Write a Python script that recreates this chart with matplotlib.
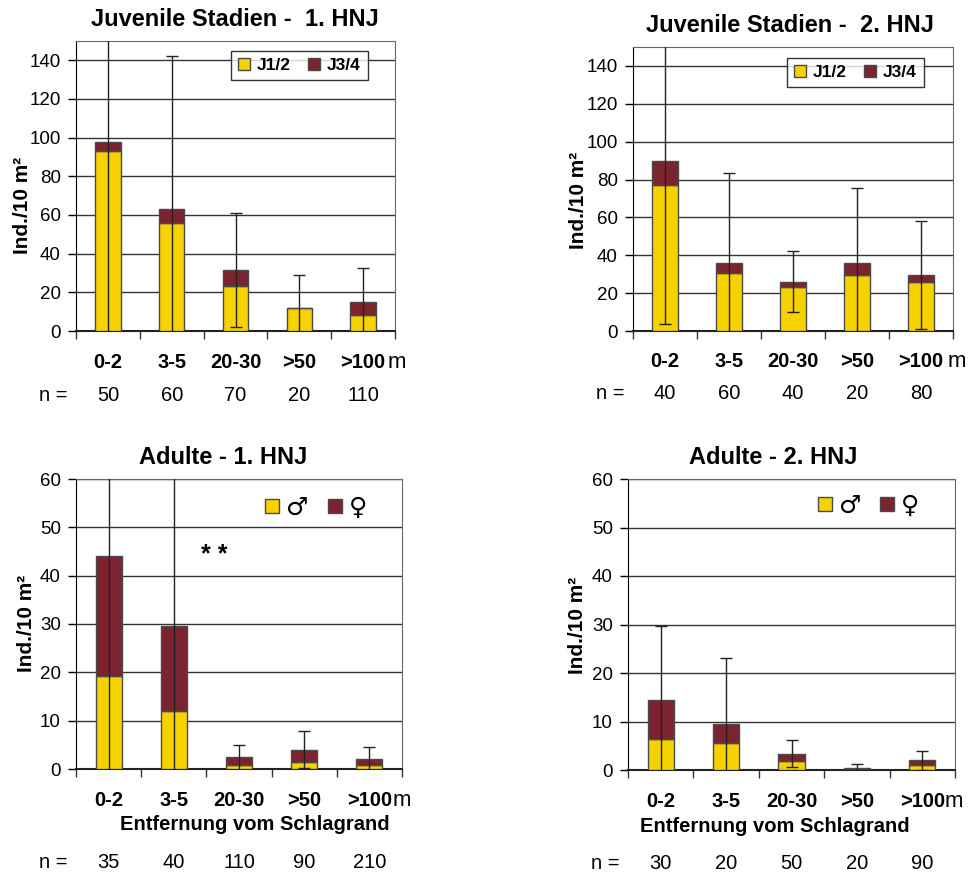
import numpy as np
import matplotlib
matplotlib.use("Agg")
from matplotlib import pyplot as plt
from matplotlib.patches import Rectangle

plt.rcParams['font.family'] = ['Liberation Sans', 'DejaVu Sans']

# Kategorien
kategorien = ['0-2', '3-5', '20-30', '>50', '>100']

# Juvenile 1. HNJ
juv1_j12 = [93, 56, 23.5, 12, 8.5]
juv1_j34 = [5, 7, 8, 0, 6.5]
juv1_err = [105, 79, 29.5, 17, 17.5]
juv1_n = [50, 60, 70, 20, 110]

# Juvenile 2. HNJ
juv2_j12 = [77, 30.5, 23, 29.5, 26]
juv2_j34 = [13, 5.5, 3, 6.5, 3.5]
juv2_err = [86.5, 47.5, 16, 39.5, 28.5]
juv2_n = [40, 60, 40, 20, 80]

# Adulte 1. HNJ
ad1_m = [19.3, 12, 0.8, 1.5, 0.8]
ad1_w = [24.7, 17.5, 1.6, 2.5, 1.2]
ad1_err = [50, 35, 2.6, 3.8, 2.6]
ad1_n = [35, 40, 110, 90, 210]

# Adulte 2. HNJ
ad2_m = [6.3, 5.5, 1.8, 0.1, 1.0]
ad2_w = [8.1, 3.9, 1.6, 0.3, 1.0]
ad2_err = [15.2, 13.6, 2.8, 0.9, 1.9]
ad2_n = [30, 20, 50, 20, 90]

gelb = '#F6D300'
rot = '#7B2430'
kante = '#4a4a4a'

fig = plt.figure(figsize=(9.72, 8.72), dpi=100)
W, H = 972, 872


def achse(l, r, t, b):
    return fig.add_axes([l / W, (H - b) / H, (r - l) / W, (b - t) / H])


def panel(ax, unten, oben, err, n, ymax, ystep, labels, legend_box,
          m_x, entf_x=None, leg_pos=(0.9, 0.96)):
    x = np.arange(len(kategorien))
    unten = np.array(unten)
    oben = np.array(oben)
    total = unten + oben
    ax.bar(x, unten, width=0.4, color=gelb, edgecolor=kante, linewidth=1,
           label=labels[0], zorder=3)
    ax.bar(x, oben, width=0.4, bottom=unten, color=rot, edgecolor=kante,
           linewidth=1, label=labels[1], zorder=3)
    ax.errorbar(x, total, yerr=err, fmt='none', ecolor='#222222',
                elinewidth=1, capsize=4, capthick=1, zorder=4)
    ax.set_xlim(-0.5, 4.5)
    ax.set_ylim(0, ymax)
    ax.set_yticks(np.arange(0, ymax + 1, ystep))
    ax.yaxis.grid(True, color='#333333', linewidth=1)
    ax.set_axisbelow(True)
    ax.tick_params(axis='y', labelsize=13.5, length=6, width=1, pad=5)
    ax.set_xticks(np.arange(-0.5, 5, 1))
    ax.set_xticklabels([''] * 6)
    ax.tick_params(axis='x', length=6, width=1, direction='out',
                   color='#333333')
    for s in ['top', 'right']:
        ax.spines[s].set_color('#666666')
    ax.spines['left'].set_color('black')
    ax.spines['bottom'].set_color('#222222')
    ax.spines['bottom'].set_linewidth(1.5)

    for i, k in enumerate(kategorien):
        ax.text(i, -0.107, k, transform=ax.get_xaxis_transform(),
                ha='center', va='center', fontsize=14.5, fontweight='bold')
    ax.text(m_x, -0.107, 'm', transform=ax.transAxes, ha='left',
            va='center', fontsize=16)

    ny = -0.221 if entf_x is None else -0.321
    for i, v in enumerate(n):
        ax.text(i, ny, str(v), transform=ax.get_xaxis_transform(),
                ha='center', va='center', fontsize=14.5)
    ax.text(-0.07, ny, 'n =', transform=ax.transAxes, ha='center',
            va='center', fontsize=14.5)
    if entf_x is not None:
        ax.text(entf_x, -0.193, 'Entfernung vom Schlagrand',
                transform=ax.transAxes, ha='center', va='center',
                fontsize=14.5, fontweight='bold')

    if legend_box:
        leg = ax.legend(loc='upper right', bbox_to_anchor=leg_pos, ncol=2,
                        frameon=True, fancybox=False, edgecolor='black',
                        prop={'weight': 'bold', 'size': 12.5},
                        handlelength=0.7, handleheight=0.7,
                        handletextpad=0.4, columnspacing=1.0,
                        borderpad=0.4, borderaxespad=0)
        leg.get_frame().set_linewidth(1)
        leg.set_zorder(5)
    return ax


def geschlecht_legende(x_gelb, x_rot, y_oben):
    # Quadrate und Symbole in Pixelkoordinaten der Figur
    for xq, farbe, sym in [(x_gelb, gelb, '♂'), (x_rot, rot, '♀')]:
        fig.patches.append(Rectangle((xq / W, 1 - (y_oben + 14) / H),
                                     14 / W, 14 / H, facecolor=farbe,
                                     edgecolor=kante, linewidth=1,
                                     transform=fig.transFigure))
        fig.text((xq + 21) / W, 1 - (y_oben + 9) / H, sym, ha='left',
                 va='center', fontsize=18, family=['DejaVu Sans'])


ax1 = achse(76, 395, 41, 331)
panel(ax1, juv1_j12, juv1_j34, juv1_err, juv1_n, 150, 20,
      ['J1/2', 'J3/4'], True, 0.978, leg_pos=(0.915, 0.966))
ax2 = achse(633, 953, 47, 331)
panel(ax2, juv2_j12, juv2_j34, juv2_err, juv2_n, 150, 20,
      ['J1/2', 'J3/4'], True, 0.984, leg_pos=(0.909, 0.961))
ax3 = achse(76, 402, 479, 769)
panel(ax3, ad1_m, ad1_w, ad1_err, ad1_n, 60, 10,
      ['♂', '♀'], False, 0.972, entf_x=0.549)
ax4 = achse(628, 955, 479, 770)
panel(ax4, ad2_m, ad2_w, ad2_err, ad2_n, 60, 10,
      ['♂', '♀'], False, 0.969, entf_x=0.45)

geschlecht_legende(265, 328, 499)
geschlecht_legende(818, 880, 497)

ax3.text(1.62, 44.3, '* *', ha='center', va='center', fontsize=18,
         fontweight='bold')

# Titel
fig.text(235 / W, 1 - 19 / H, 'Juvenile Stadien -  1. HNJ', ha='center',
         va='center', fontsize=17, fontweight='bold')
fig.text(790 / W, 1 - 25 / H, 'Juvenile Stadien -  2. HNJ', ha='center',
         va='center', fontsize=17, fontweight='bold')
fig.text(223 / W, 1 - 457 / H, 'Adulte - 1. HNJ', ha='center',
         va='center', fontsize=17, fontweight='bold')
fig.text(773 / W, 1 - 457 / H, 'Adulte - 2. HNJ', ha='center',
         va='center', fontsize=17, fontweight='bold')

# Y-Achsen
for xp, yp in [(22, 205), (578, 200), (27, 623), (577, 625)]:
    fig.text(xp / W, 1 - yp / H, 'Ind./10 m²', rotation=90, ha='center',
             va='center', fontsize=15, fontweight='bold')

fig.savefig('out.png', dpi=100)
